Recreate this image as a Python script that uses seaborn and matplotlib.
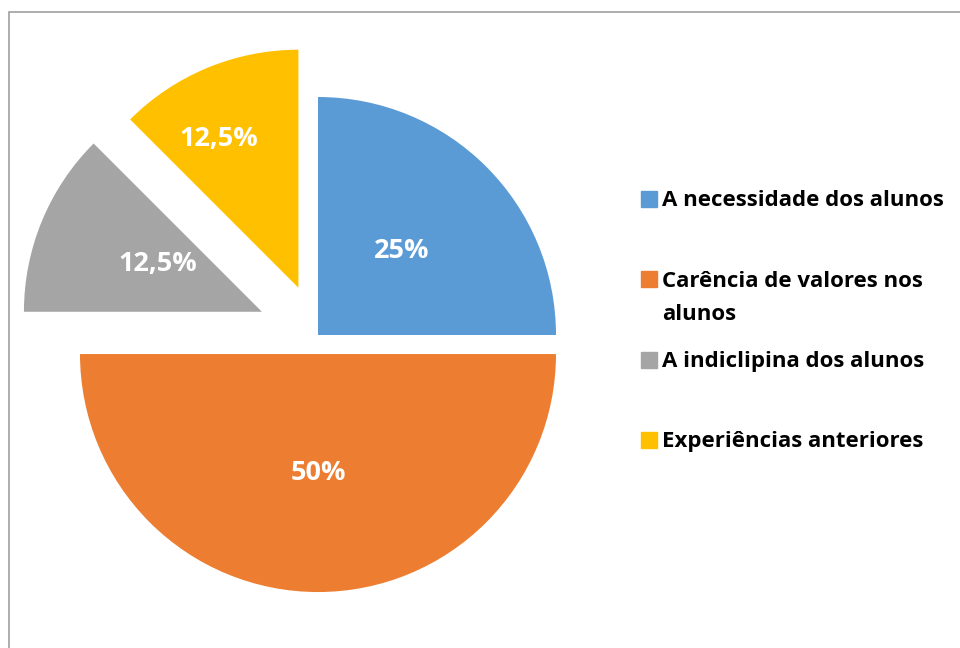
import matplotlib
matplotlib.use("Agg")
import numpy as np
import matplotlib.pyplot as plt
import seaborn as sns

# data
categories = ["A necessidade dos alunos", "Carência de valores nos\nalunos",
              "A indiclipina dos alunos", "Experiências anteriores"]
shares = [25, 50, 12.5, 12.5]
colors = ["#5B9BD5", "#ED7D31", "#A5A5A5", "#FFC000"]
explode = [0.0, 0.08, 0.255, 0.215]

sns.set_theme(style="white")
plt.rcParams["font.family"] = ["Open Sans", "DejaVu Sans"]


def fmt_pct(p):
    s = f"{p:.1f}".rstrip("0").rstrip(".")
    return s.replace(".", ",") + "%"


fig = plt.figure(figsize=(9.6, 6.48), dpi=100)
ax = fig.add_axes([0, 0, 1, 1])

wedges, texts, autotexts = ax.pie(
    shares, colors=colors, explode=explode, startangle=90, counterclock=False,
    radius=1.0, autopct=fmt_pct, pctdistance=0.5,
    textprops=dict(color="white", fontsize=19.5, fontweight="bold"),
    wedgeprops=dict(linewidth=0))

# yellow label sits further out in the reference
w = wedges[3]
mid = np.deg2rad((w.theta1 + w.theta2) / 2 + 5.5)
autotexts[3].set_position((w.center[0] + 0.71 * np.cos(mid),
                           w.center[1] + 0.71 * np.sin(mid)))
w = wedges[2]
mid = np.deg2rad((w.theta1 + w.theta2) / 2 - 2)
autotexts[2].set_position((w.center[0] + 0.48 * np.cos(mid),
                           w.center[1] + 0.48 * np.sin(mid)))

# map data units to pixels: centre at (318, 335) px, radius 238 px
r_px = 238.0
ax.set_xlim(-318 / r_px, (960 - 318) / r_px)
ax.set_ylim(-(648 - 335) / r_px, 335 / r_px)
ax.set_aspect("auto")
ax.axis("off")

# legend, placed like the Excel one (baseline of each entry's last line)
mark_y = [199, 279, 360, 440]
base_y = [206, 320, 367, 447]
for name, col, my, by in zip(categories, colors, mark_y, base_y):
    fig.patches.append(plt.Rectangle((641 / 960, 1 - (my + 8) / 648), 16 / 960, 16 / 648,
                                     transform=fig.transFigure, color=col, figure=fig))
    fig.text(662 / 960, 1 - by / 648, name, fontsize=16, fontweight="bold",
             color="black", va="baseline", ha="left", linespacing=1.72)

# chart area border (cropped on the right and bottom)
fig.patches.append(plt.Rectangle((8.5 / 960, -0.1), 1.2, 1.1 - 12.5 / 648,
                                 transform=fig.transFigure, fill=False,
                                 edgecolor="#A0A0A0", linewidth=1.2, figure=fig))

fig.savefig("out.png", dpi=100, facecolor="white")
